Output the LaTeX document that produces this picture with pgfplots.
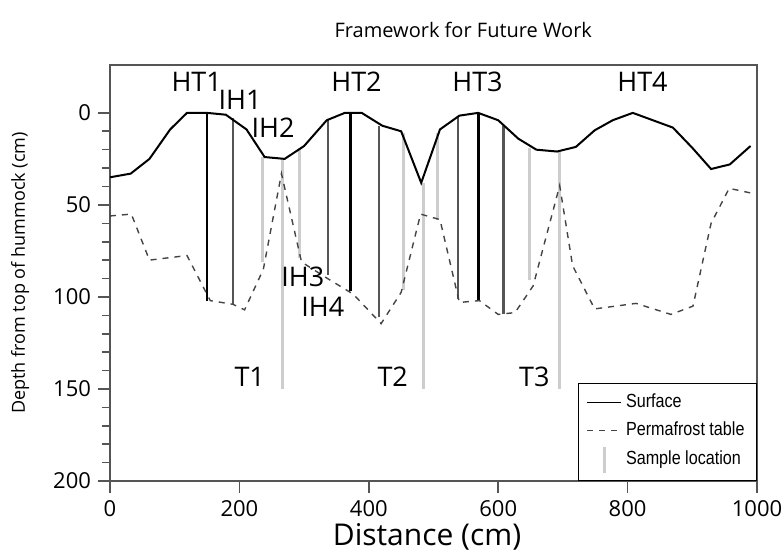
\documentclass[border=0pt]{standalone}
\usepackage{fontspec}
\setmainfont{Open Sans}
\newfontfamily\legfont{Liberation Sans}[FakeStretch=0.85]
\usepackage{pgfplots}
\pgfplotsset{compat=1.18}
\definecolor{samp}{HTML}{CDCDCD}
\definecolor{dgray}{HTML}{555555}
\definecolor{pgray}{HTML}{444444}
\begin{document}
\begin{tikzpicture}
\begin{axis}[
  at={(0,0)}, anchor=south west,
  scale only axis, width=323.5pt, height=208pt,
  xmin=0, xmax=1000, ymin=-26, ymax=200, y dir=reverse,
  xtick={0,200,...,1000}, ytick={0,50,...,200}, minor ytick={10,20,30,40,60,70,80,90,110,120,130,140,160,170,180,190},
  tick align=outside, major tick length=6pt, minor tick length=4pt,
  xtick pos=bottom, ytick pos=left,
  axis line style={draw=dgray, line width=0.8pt},
  every tick/.style={dgray, line width=0.8pt},
  /pgf/number format/assume math mode=true,
  /pgf/number format/1000 sep={},
  tick label style={font=\fontsize{11}{13}\selectfont},
  xlabel={Distance (cm)},
  xlabel style={at={(axis description cs:0.49,-0.135)}, anchor=center, font=\fontsize{15}{17}\selectfont},
  ylabel={Depth from top of hummock (cm)},
  ylabel style={at={(axis description cs:-0.139,0.5)}, anchor=center, font=\fontsize{9}{11}\selectfont},
  legend style={at={(1,0)}, anchor=south east, draw=black, line width=0.5pt, font=\legfont\fontsize{9.5}{11}\selectfont, row sep=1.5pt, inner xsep=4pt, inner ysep=3pt},
  legend cell align=left,
  clip=false,
]
\addlegendimage{black, line width=0.7pt}
\addlegendentry{Surface}
\addlegendimage{pgray, dashed, line width=0.6pt}
\addlegendentry{Permafrost table}
\addlegendimage{legend image code/.code={\draw[samp, line width=1.5pt] (0.3cm,-7pt) -- (0.3cm,6pt);}}
\addlegendentry{Sample location}

% sample locations
\addplot[samp, line width=1.5pt, forget plot] coordinates {(235,24) (235,81)};
\addplot[samp, line width=1.5pt, forget plot] coordinates {(267,25) (267,150)};
\addplot[samp, line width=1.5pt, forget plot] coordinates {(293,19) (293,79)};
\addplot[samp, line width=1.5pt, forget plot] coordinates {(453,11) (453,96)};
\addplot[samp, line width=1.5pt, forget plot] coordinates {(484,38) (484,150)};
\addplot[samp, line width=1.5pt, forget plot] coordinates {(506,11) (506,58)};
\addplot[samp, line width=1.5pt, forget plot] coordinates {(648,19) (648,91)};
\addplot[samp, line width=1.5pt, forget plot] coordinates {(695,21) (695,150)};

% hummock/inter-hummock lines
\addplot[black, line width=1.3pt, forget plot] coordinates {(150,0) (150,102)};
\addplot[dgray, line width=1.2pt, forget plot] coordinates {(190,3) (190,104)};
\addplot[dgray, line width=1.2pt, forget plot] coordinates {(337,4) (337,88)};
\addplot[black, line width=1.3pt, forget plot] coordinates {(372,0) (372,97)};
\addplot[dgray, line width=1.2pt, forget plot] coordinates {(416,7) (416,111)};
\addplot[dgray, line width=1.2pt, forget plot] coordinates {(538,2) (538,101)};
\addplot[black, line width=1.3pt, forget plot] coordinates {(570,0) (570,102)};
\addplot[dgray, line width=1.2pt, forget plot] coordinates {(608,7) (608,109)};

% surface
\addplot[black, line width=1pt, forget plot] coordinates {
(0,35)(32,33)(61,25)(93,9)(119,0)(150,0)(179,1)(211,9)(239,24)(270,25)(300,18)(335,4)(363,0)(389,0)(421,7)(450,10)(481,38)(510,9)(540,1.5)(569,0)(600,4)(631,14)(659,20)(691,21)(720,18.5)(749,9.5)(777,4)(808,0)(839,4)(870,8)(900,19)(929,30.5)(958,28)(990,18)};
% permafrost table
\addplot[pgray, dashed, line width=0.7pt, forget plot] coordinates {
(0,56)(33,55)(61,80)(119,77.5)(155,102)(190,104)(208,107)(237,85)(265,33)(296,81)(334,89.5)(376,98.5)(419,114.5)(450,97.5)(480,55)(510,58)(540,103)(571,102)(600,109.5)(626,108.5)(654,94)(695,39.5)(715,83)(749,106.5)(813,103.5)(867,109.5)(901,105)(929,60)(957,41)(990,43.5)};

\begin{scope}[every node/.style={font=\fontsize{13.5}{15}\selectfont, inner sep=0pt}]
\node at (axis cs:134,-17) {HT1};
\node at (axis cs:201,-7) {IH1};
\node at (axis cs:252,8) {IH2};
\node at (axis cs:381,-17) {HT2};
\node at (axis cs:568,-17) {HT3};
\node at (axis cs:823,-17) {HT4};
\node at (axis cs:298,89) {IH3};
\node at (axis cs:329,105.5) {IH4};
\node at (axis cs:216,143.5) {T1};
\node at (axis cs:437,143.5) {T2};
\node at (axis cs:656,143.5) {T3};
\end{scope}
\node[font=\fontsize{10}{12}\selectfont] at (axis description cs:0.546,1.084) {Framework for Future Work};
\end{axis}
\pgfresetboundingbox
\path[use as bounding box] (-55pt,-36.5pt) rectangle (335.5pt,240.5pt);
\end{tikzpicture}
\end{document}
